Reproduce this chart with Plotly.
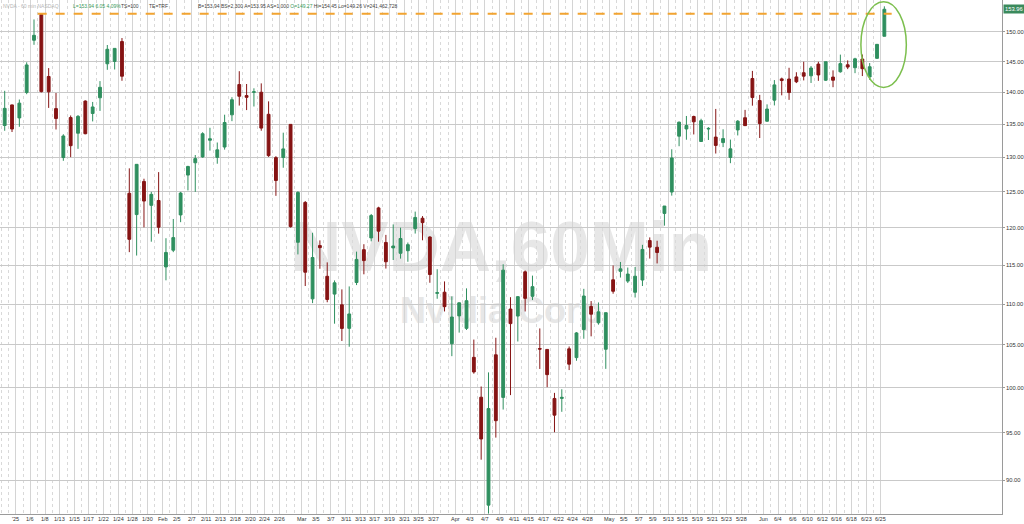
import math
import plotly.graph_objects as go

# ---------------- data (daily sessions) ----------------
dates = [
    "2024-12-30", "2024-12-31",
    "2025-01-02", "2025-01-03", "2025-01-06", "2025-01-07", "2025-01-08", "2025-01-10",
    "2025-01-13", "2025-01-14", "2025-01-15", "2025-01-16", "2025-01-17", "2025-01-21",
    "2025-01-22", "2025-01-23", "2025-01-24", "2025-01-27", "2025-01-28", "2025-01-29",
    "2025-01-30", "2025-01-31",
    "2025-02-03", "2025-02-04", "2025-02-05", "2025-02-06", "2025-02-07", "2025-02-10",
    "2025-02-11", "2025-02-12", "2025-02-13", "2025-02-14", "2025-02-18", "2025-02-19",
    "2025-02-20", "2025-02-21", "2025-02-24", "2025-02-25", "2025-02-26", "2025-02-27",
    "2025-02-28",
    "2025-03-03", "2025-03-04", "2025-03-05", "2025-03-06", "2025-03-07", "2025-03-10",
    "2025-03-11", "2025-03-12", "2025-03-13", "2025-03-14", "2025-03-17", "2025-03-18",
    "2025-03-19", "2025-03-20", "2025-03-21", "2025-03-24", "2025-03-25", "2025-03-26",
    "2025-03-27", "2025-03-28", "2025-03-31",
    "2025-04-01", "2025-04-02", "2025-04-03", "2025-04-04", "2025-04-07", "2025-04-08",
    "2025-04-09", "2025-04-10", "2025-04-11", "2025-04-14", "2025-04-15", "2025-04-16",
    "2025-04-17", "2025-04-21", "2025-04-22", "2025-04-23", "2025-04-24", "2025-04-25",
    "2025-04-28", "2025-04-29", "2025-04-30",
    "2025-05-01", "2025-05-02", "2025-05-05", "2025-05-06", "2025-05-07", "2025-05-08",
    "2025-05-09", "2025-05-12", "2025-05-13", "2025-05-14", "2025-05-15", "2025-05-16",
    "2025-05-19", "2025-05-20", "2025-05-21", "2025-05-22", "2025-05-23", "2025-05-27",
    "2025-05-28", "2025-05-29", "2025-05-30",
    "2025-06-02", "2025-06-03", "2025-06-04", "2025-06-05", "2025-06-06", "2025-06-09",
    "2025-06-10", "2025-06-11", "2025-06-12", "2025-06-13", "2025-06-16", "2025-06-17",
    "2025-06-18", "2025-06-20", "2025-06-23", "2025-06-24", "2025-06-25",
]

opens = [
    134.83, 138.03,
    136.00, 140.01, 148.59, 153.03, 142.58, 137.45, 129.99, 136.05, 133.65, 138.64,
    136.69, 139.16, 144.66, 145.05, 148.37, 124.80, 121.81, 126.50, 123.10, 123.78,
    114.75, 116.96, 121.76, 127.42, 129.22, 130.09, 132.58, 130.02, 131.56, 136.48,
    141.27, 139.51, 140.03, 140.04, 136.56, 129.98, 129.99, 135.00, 118.02,
    123.51, 110.65, 117.58, 113.53, 111.25, 109.90, 106.99, 112.73, 117.03, 118.61,
    122.74, 118.00, 117.27, 116.55, 116.89, 119.88, 121.30, 118.73, 111.35, 111.49, 105.13,
    108.52, 106.99, 103.51, 98.91, 87.46, 103.81, 98.89, 109.37, 108.50, 114.11,
    110.97, 104.55, 104.45, 98.77, 98.78, 104.52, 103.48, 106.85, 109.69, 107.67, 104.47,
    113.08, 114.18, 112.91, 111.48, 113.05, 118.25, 117.35, 121.97, 124.98, 133.20,
    134.30, 136.22, 132.39, 134.29, 133.06, 132.23, 130.00, 134.15, 136.03, 142.25, 138.72,
    135.49, 138.78, 142.19, 142.17, 142.51, 143.19, 142.69, 144.61, 141.97, 142.48,
    143.35, 144.49, 144.01, 145.45, 142.50, 145.56, 149.27,
]

highs = [
    140.27, 138.07,
    138.88, 144.90, 152.16, 153.13, 143.95, 139.92, 133.49, 136.38, 136.45, 138.75,
    138.50, 141.83, 147.79, 147.23, 148.97, 128.40, 129.00, 126.89, 125.00, 127.85,
    118.57, 121.20, 125.00, 128.77, 130.37, 133.80, 134.48, 132.24, 136.50, 139.25,
    143.44, 141.36, 140.67, 141.46, 138.59, 130.20, 133.73, 135.01, 125.09,
    123.70, 119.31, 118.28, 115.35, 113.00, 111.85, 112.23, 116.77, 117.76, 121.89,
    122.90, 119.02, 120.45, 120.00, 117.99, 122.22, 121.60, 118.84, 114.45, 112.87, 110.96,
    110.20, 111.98, 105.63, 100.13, 101.75, 105.85, 115.10, 110.86, 111.00, 114.29,
    113.62, 106.98, 104.47, 99.40, 99.81, 104.80, 106.54, 111.92, 110.37, 110.20, 108.92,
    114.94, 115.40, 114.67, 114.74, 117.68, 118.68, 118.23, 123.00, 131.22, 135.44,
    136.30, 136.35, 135.87, 134.58, 137.40, 134.25, 132.68, 135.66, 137.25, 143.49, 139.62,
    138.12, 142.00, 142.39, 144.00, 143.27, 145.00, 144.29, 144.99, 145.00, 143.58,
    146.18, 145.22, 145.65, 146.20, 144.78, 147.96, 154.45,
]

lows = [
    134.02, 133.83,
    134.63, 139.73, 147.82, 140.01, 137.56, 134.22, 129.51, 130.05, 131.29, 133.49,
    135.46, 137.09, 143.67, 143.72, 141.88, 116.70, 116.25, 120.05, 118.10, 119.19,
    113.01, 116.70, 120.76, 125.21, 125.00, 129.96, 131.02, 129.08, 131.17, 135.50,
    137.93, 137.22, 137.78, 134.03, 130.08, 124.44, 128.49, 120.01, 116.40,
    112.28, 110.11, 114.51, 110.22, 107.56, 105.46, 104.77, 112.40, 113.79, 118.15,
    118.10, 114.54, 115.66, 115.84, 115.43, 119.20, 118.29, 112.70, 110.66, 109.07, 103.65,
    106.47, 106.79, 101.60, 92.11, 86.62, 94.46, 97.53, 99.15, 105.40, 109.07,
    110.50, 102.15, 100.05, 95.04, 97.28, 102.02, 103.11, 105.73, 106.02, 107.44, 102.16,
    111.30, 113.37, 112.66, 110.82, 112.28, 115.85, 115.21, 120.28, 124.47, 131.68,
    132.66, 133.46, 132.39, 132.62, 130.59, 131.55, 129.16, 133.31, 134.79, 137.91, 132.92,
    135.40, 137.95, 139.55, 138.83, 141.51, 141.94, 141.53, 141.87, 141.85, 140.85,
    143.20, 143.78, 143.12, 142.65, 142.03, 145.50, 149.26,
]

closes = [
    137.49, 134.29,
    138.31, 144.47, 149.43, 140.14, 140.11, 135.91, 133.23, 131.76, 136.24, 133.57,
    137.71, 140.83, 147.07, 147.22, 142.62, 118.42, 128.99, 123.70, 124.65, 120.07,
    116.66, 118.65, 124.83, 128.68, 129.84, 133.57, 132.80, 131.14, 135.29, 138.85,
    139.40, 139.23, 140.11, 134.43, 130.28, 126.63, 131.28, 120.15, 124.92,
    114.06, 115.99, 117.30, 110.57, 112.69, 106.98, 108.76, 115.74, 115.58, 121.67,
    119.53, 115.43, 117.52, 118.53, 117.70, 121.41, 120.69, 113.76, 111.43, 109.67, 108.38,
    110.15, 110.42, 101.80, 94.31, 97.64, 96.30, 114.33, 107.57, 110.93, 110.71,
    112.20, 104.49, 101.49, 96.91, 98.89, 102.71, 106.43, 111.01, 108.73, 109.02, 108.92,
    111.61, 114.50, 113.82, 113.54, 117.06, 117.37, 116.65, 123.00, 129.93, 135.34,
    134.83, 135.40, 135.57, 134.38, 131.80, 132.83, 131.29, 135.50, 134.81, 139.19, 135.13,
    137.38, 141.22, 141.92, 139.99, 141.72, 142.63, 143.96, 142.83, 145.00, 141.97,
    144.69, 144.12, 145.48, 143.85, 144.17, 147.90, 153.94,
]

tick_dates = [
    "2025-01-02", "2025-01-06", "2025-01-08", "2025-01-13", "2025-01-15", "2025-01-17",
    "2025-01-22", "2025-01-24", "2025-01-28", "2025-01-30", "2025-02-03", "2025-02-05",
    "2025-02-07", "2025-02-11", "2025-02-13", "2025-02-18", "2025-02-20", "2025-02-24",
    "2025-02-26", "2025-03-03", "2025-03-05", "2025-03-07", "2025-03-11", "2025-03-13",
    "2025-03-17", "2025-03-19", "2025-03-21", "2025-03-25", "2025-03-27", "2025-04-01",
    "2025-04-03", "2025-04-07", "2025-04-09", "2025-04-11", "2025-04-15", "2025-04-17",
    "2025-04-22", "2025-04-24", "2025-04-28", "2025-05-01", "2025-05-05", "2025-05-07",
    "2025-05-09", "2025-05-13", "2025-05-15", "2025-05-19", "2025-05-21", "2025-05-23",
    "2025-05-28", "2025-06-02", "2025-06-04", "2025-06-06", "2025-06-10", "2025-06-12",
    "2025-06-16", "2025-06-18", "2025-06-23", "2025-06-25",
]
tick_labels = [
    "'25", "1/6", "1/8", "1/13", "1/15", "1/17", "1/22", "1/24", "1/28", "1/30",
    "Feb", "2/5", "2/7", "2/11", "2/13", "2/18", "2/20", "2/24", "2/26",
    "Mar", "3/5", "3/7", "3/11", "3/13", "3/17", "3/19", "3/21", "3/25", "3/27",
    "Apr", "4/3", "4/7", "4/9", "4/11", "4/15", "4/17", "4/22", "4/24", "4/28",
    "May", "5/5", "5/7", "5/9", "5/13", "5/15", "5/19", "5/21", "5/23", "5/28",
    "Jun", "6/4", "6/6", "6/10", "6/12", "6/16", "6/18", "6/23", "6/25",
]

price_ticks = [90, 95, 100, 105, 110, 115, 120, 125, 130, 135, 140, 145, 150]
last_quote = 153.96
watermark_symbol = "NVDA,60Min"
watermark_name = "Nvidia Corp"

# ---------------- layout helpers ----------------
W, H = 1024, 524
M_L, M_R, M_T, M_B = 0, 22, 0, 10
PLOT_W, PLOT_H = W - M_L - M_R, H - M_T - M_B

first_idx = dates.index("2025-01-02")
day_pos = [i - first_idx for i in range(len(dates))]          # day start positions
centers = [p + 0.5 for p in day_pos]                            # candle centers
tick_pos = [dates.index(d) - first_idx for d in tick_dates]
minor_pos = [p for p in day_pos if p not in tick_pos]

x_range = [-2.14, 134.55]
y_lo, y_hi = 86.58, 155.57
y_range = [math.log10(y_lo), math.log10(y_hi)]

UP = "#2f8f5f"
DOWN = "#861414"
FONT = "Liberation Sans, Arial, sans-serif"
GREEN_TXT = "#3a9a5a"
DARK_TXT = "#3f3f3f"

fig = go.Figure()
fig.add_trace(go.Candlestick(
    x=centers, open=opens, high=highs, low=lows, close=closes,
    increasing=dict(line=dict(color=UP, width=1), fillcolor=UP),
    decreasing=dict(line=dict(color=DOWN, width=1), fillcolor=DOWN),
    whiskerwidth=0, showlegend=False, hoverinfo="skip",
))


def py(px):
    """pixel row -> paper y"""
    return 1 - (px - M_T) / PLOT_H


def px_x(px):
    return (px - M_L) / PLOT_W


shapes = []
# watermark (between grid and traces)
for text, cy, size in [(watermark_symbol, 239, 71), (watermark_name, 307, 36)]:
    shapes.append(dict(
        type="rect", xref="paper", yref="paper",
        x0=0.2, x1=0.8, y0=py(cy + 30), y1=py(cy - 30),
        line=dict(width=0), fillcolor="rgba(0,0,0,0)", layer="between",
        label=dict(text=f"<b>{text}</b>", textposition="middle center",
                   font=dict(size=size, color="#e7e7e7", family=FONT)),
    ))

# prior high dashed line (level of the earlier peak)
prior_high = max(highs[:-1])
peak_i = highs.index(prior_high)
shapes.append(dict(
    type="line", xref="x", yref="y",
    x0=day_pos[peak_i], x1=day_pos[-1] + 1.5, y0=prior_high, y1=prior_high,
    line=dict(color="#f2a431", width=2, dash="dash"), layer="above",
))

# ellipse around the latest sessions
shapes.append(dict(
    type="circle", xref="x", yref="paper",
    x0=day_pos[-1] - 2.7, x1=day_pos[-1] + 3.5,
    y0=py(87.5), y1=py(1.8),
    line=dict(color="#7cbf4e", width=1.5), fillcolor="rgba(0,0,0,0)",
))

annotations = []
right_header = (
    "B=153.94 BS=2,300 A=153.95 AS=1,000 "
    f"<span style='color:{GREEN_TXT}'>O=149.27</span> "
    "Hi=154.45 Lo=149.26 V=241,462,728"
)
header_parts = [
    (2, "NVDA - 60 min NASDAQ", "#b5b5b5"),
    (72, "L=153.94 6.05 4.09%", GREEN_TXT),
    (120, "TS=100", DARK_TXT),
    (148, "TE=TRF", DARK_TXT),
    (197, right_header, DARK_TXT),
]
for xpx, txt, col in header_parts:
    annotations.append(dict(
        xref="paper", yref="paper", x=px_x(xpx), y=py(2), xanchor="left", yanchor="top",
        text=txt, showarrow=False, borderpad=0,
        font=dict(size=5, color=col, family=FONT),
    ))

# date labels under the axis
for pos, lab in zip(tick_pos, tick_labels):
    annotations.append(dict(
        xref="x", yref="paper", x=pos, y=0, xanchor="center", yanchor="top",
        text=lab, showarrow=False, borderpad=0, yshift=-1,
        font=dict(size=5.5, color="#333333", family=FONT),
    ))

# price labels right of the axis
for v in price_ticks:
    annotations.append(dict(
        xref="paper", yref="y", x=1.0, y=math.log10(v), xanchor="left", yanchor="middle",
        text=f"{v:.2f}", showarrow=False, borderpad=0, xshift=3,
        font=dict(size=5.8, color="#333333", family=FONT),
    ))

# last price flag on the right axis
annotations.append(dict(
    xref="paper", yref="y", x=1.0, y=math.log10(last_quote), xanchor="left", yanchor="middle",
    text=f"{last_quote:.2f}", showarrow=False, bgcolor="#3a8a5c",
    font=dict(size=5.8, color="white", family=FONT), borderpad=1, xshift=1,
))

fig.update_layout(
    width=W, height=H,
    margin=dict(l=M_L, r=M_R, t=M_T, b=M_B, pad=0, autoexpand=False),
    paper_bgcolor="white", plot_bgcolor="white",
    shapes=shapes, annotations=annotations,
    showlegend=False, boxgap=0.45,
    xaxis=dict(
        range=x_range, rangeslider=dict(visible=False), automargin=False,
        tickmode="array", tickvals=tick_pos, showticklabels=False,
        showgrid=True, gridcolor="#d4d4d4", gridwidth=1,
        minor=dict(tickmode="array", tickvals=minor_pos, showgrid=True,
                   gridcolor="#d9d9d9", griddash="dot", gridwidth=1),
        showline=True, linecolor="#9a9a9a", linewidth=1,
        ticks="", zeroline=False, fixedrange=True,
    ),
    yaxis=dict(
        type="log", range=y_range, side="right", automargin=False,
        tickmode="array", tickvals=price_ticks, showticklabels=False,
        showgrid=True, gridcolor="#c9c9c9", gridwidth=1,
        showline=True, linecolor="#9a9a9a", linewidth=1,
        ticks="outside", ticklen=2, tickcolor="#9a9a9a",
        zeroline=False, fixedrange=True,
    ),
)

# remove the browser's default page margin so the 1024x524 figure fills the window
fig.write_html(
    "out.html",
    config={"displayModeBar": False},
    post_script="document.body.style.margin='0px';document.body.style.overflow='hidden';",
)
